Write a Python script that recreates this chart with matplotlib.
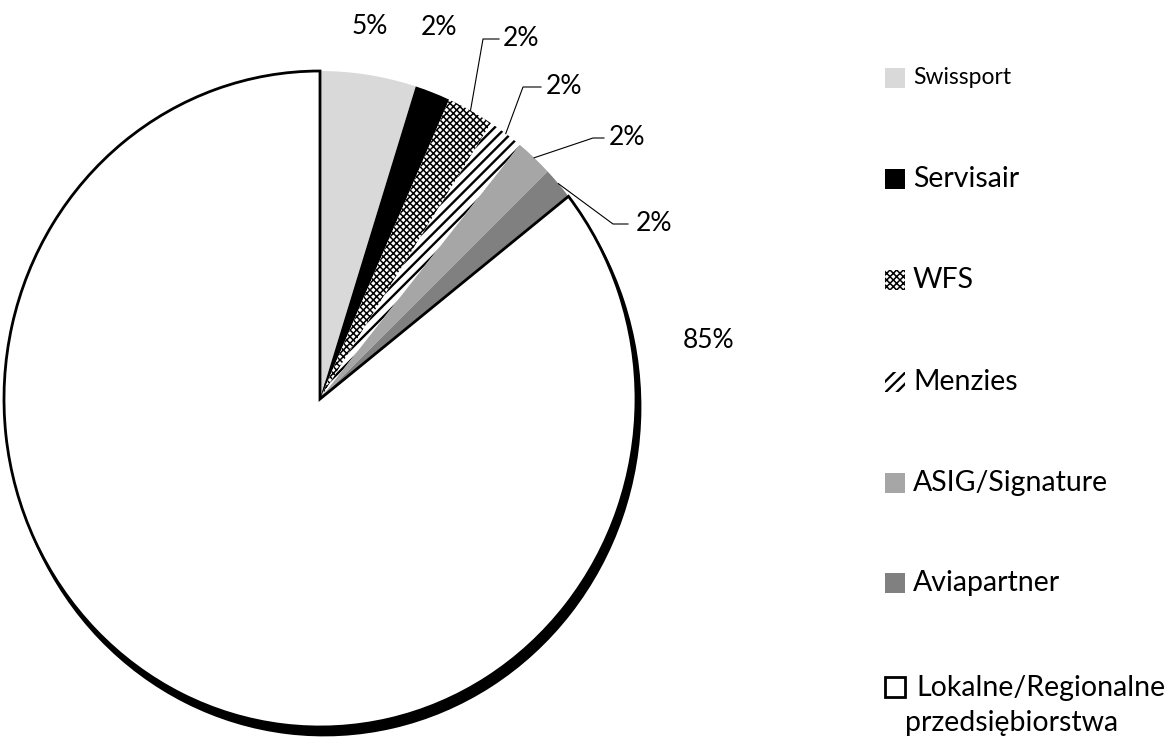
import matplotlib
matplotlib.use("Agg")
import matplotlib.pyplot as plt
from matplotlib.patches import Rectangle
import numpy as np

# ---- data ----
categories = ["Swissport", "Servisair", "WFS", "Menzies", "ASIG/Signature",
              "Aviapartner", "Lokalne/Regionalne", "przedsiębiorstwa"]
values = [4.9, 1.8, 2.4, 1.8, 1.9, 1.6, 85.6]
value_labels = ["5%", "2%", "2%", "2%", "2%", "2%", "85%"]

# ---- styles ----
colors = ["#d9d9d9", "#000000", "#ffffff", "#ffffff", "#a6a6a6", "#808080", "#ffffff"]
hatches = [None, None, "xxxxx", "///", None, None, None]
hatch_lw = [0, 0, 1.1, 1.7, 0, 0, 0]

W, H = 1169, 740
plt.rcParams["font.family"] = ["Lato", "DejaVu Sans"]
plt.rcParams["hatch.color"] = "black"

fig = plt.figure(figsize=(W / 100, H / 100), dpi=100)

# pie axes (slightly elliptical like reference)
cx_px, cy_px, rx_px, ry_px = 320, 399, 316, 328
ax = fig.add_axes([(cx_px - rx_px) / W, 1 - (cy_px + ry_px) / H, 2 * rx_px / W, 2 * ry_px / H])


def px2data(px, py):
    return (px - cx_px) / rx_px, (cy_px - py) / ry_px


# shadow of the large wedge
sh_dx, sh_dy = 4 / rx_px, -8 / ry_px
shadow_wedges, _ = ax.pie(values, startangle=90, counterclock=False,
                          center=(sh_dx, sh_dy), radius=1, frame=True)
for i, w in enumerate(shadow_wedges):
    if i == len(values) - 1:
        w.set_facecolor("black")
        w.set_edgecolor("black")
        w.set_linewidth(2)
    else:
        w.set_visible(False)
    w.set_zorder(1)

wedges, _ = ax.pie(values, startangle=90, counterclock=False,
                   colors=colors, radius=1, frame=True)
for i, w in enumerate(wedges):
    w.set_zorder(2)
    if hatches[i]:
        w.set_hatch(hatches[i])
        w.set_edgecolor("black")
        w.set_linewidth(0)
        try:
            w.set_hatch_linewidth(hatch_lw[i])
        except Exception:
            pass
    else:
        w.set_edgecolor("none")
        w.set_linewidth(0)
wedges[-1].set_edgecolor("black")
wedges[-1].set_linewidth(2.0)
wedges[-1].set_zorder(3)

ax.set_xlim(-1, 1)
ax.set_ylim(-1, 1)
ax.set_aspect("auto")
ax.axis("off")

# ---- value labels ----
fs = 19
tot = sum(values)
cum = np.cumsum([0] + values)
mids = [(cum[i] + cum[i + 1]) / 2 / tot for i in range(len(values))]

# plain labels (no leader)
plain = {0: (370, 27), 1: (439, 28), 6: (709, 341)}
for i, (px, py) in plain.items():
    x, y = px2data(px, py)
    ax.text(x, y, value_labels[i], ha="center", va="center", fontsize=fs, clip_on=False)

# labels with leader lines: elbow point, end of horizontal segment, text left x
leaders = {2: ((483, 39), 499, 503),
           3: ((523, 87), 541, 546),
           4: ((593, 138), 604, 609),
           5: ((613, 224), 628, 636)}
for i, ((ex, ey), hx, tx) in leaders.items():
    ang = np.deg2rad(90 - 360 * mids[i])
    sx, sy = np.cos(ang), np.sin(ang)
    e = px2data(ex, ey)
    h = px2data(hx, ey)
    ax.plot([sx, e[0], h[0]], [sy, e[1], h[1]], color="black", lw=0.8,
            zorder=5, clip_on=False)
    t = px2data(tx, ey)
    ax.text(t[0], t[1], value_labels[i], ha="left", va="center", fontsize=fs, clip_on=False)

# ---- legend (manual) ----
leg_x = 885
lfs = 20.5
row_y = [78, 179, 280, 382, 483, 583, 687]
for i in range(len(values)):
    yc = row_y[i]
    size = 20
    x0 = leg_x / W
    y0 = 1 - (yc + size / 2) / H
    if i == len(values) - 1:
        r = Rectangle((x0, y0), size / W, size / H, transform=fig.transFigure,
                      facecolor="white", edgecolor="black", lw=2)
    else:
        r = Rectangle((x0, y0), size / W, size / H, transform=fig.transFigure,
                      facecolor=colors[i], edgecolor="black" if hatches[i] else "none",
                      lw=0, hatch=hatches[i])
        if hatches[i]:
            try:
                r.set_hatch_linewidth(hatch_lw[i])
            except Exception:
                pass
    fig.add_artist(r)
    tfs = 16.5 if i == 0 else lfs
    if i == len(values) - 1:
        fig.text(916 / W, 1 - (yc + 1) / H, categories[i], ha="left", va="center", fontsize=tfs)
        fig.text(905 / W, 1 - (yc + 36) / H, categories[i + 1], ha="left", va="center", fontsize=tfs)
    else:
        fig.text(913 / W, 1 - yc / H, categories[i], ha="left", va="center", fontsize=tfs)

fig.savefig("out.png", dpi=100)
